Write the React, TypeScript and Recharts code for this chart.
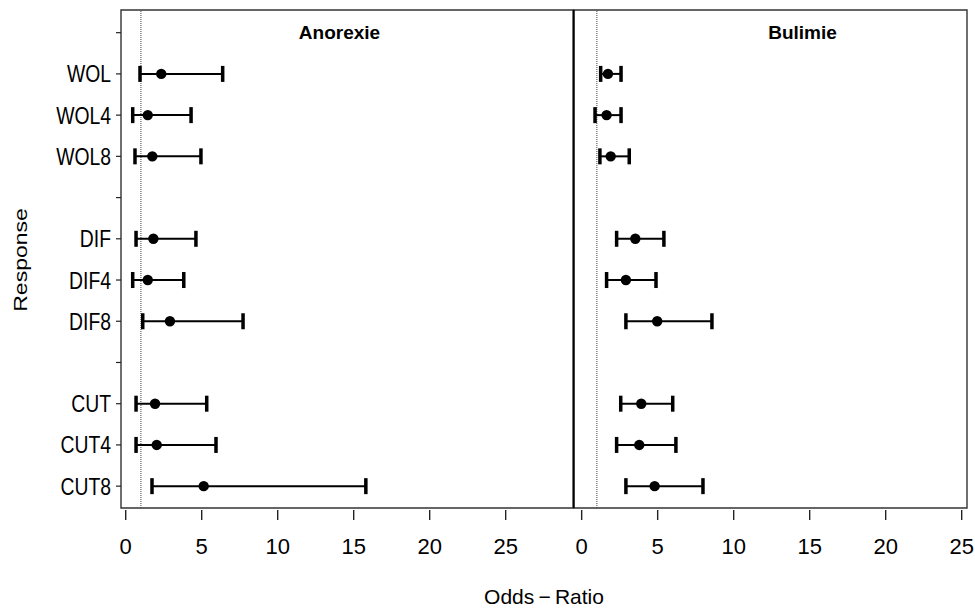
import React from 'react';
import { ScatterChart, Scatter, XAxis, YAxis, ErrorBar, ReferenceLine, ReferenceArea } from 'recharts';

// rows top to bottom, y slot (12 = top; slots 12, 8 and 4 are empty)
const responses = ['WOL', 'WOL4', 'WOL8', 'DIF', 'DIF4', 'DIF8', 'CUT', 'CUT4', 'CUT8'];
const ySlots = [11, 10, 9, 7, 6, 5, 3, 2, 1];
const yTicks = [1, 2, 3, 4, 5, 6, 7, 8, 9, 10, 11, 12];
const xTicks = [0, 5, 10, 15, 20, 25];

const anorexieOR = [2.34, 1.45, 1.75, 1.82, 1.45, 2.91, 1.93, 2.04, 5.13];
const anorexieLow = [0.94, 0.46, 0.61, 0.68, 0.46, 1.12, 0.68, 0.68, 1.73];
const anorexieHigh = [6.38, 4.3, 4.95, 4.62, 3.82, 7.72, 5.33, 5.94, 15.8];

const bulimieOR = [1.73, 1.64, 1.91, 3.53, 2.91, 4.97, 3.92, 3.79, 4.8];
const bulimieLow = [1.25, 0.88, 1.2, 2.3, 1.64, 2.91, 2.57, 2.3, 2.91];
const bulimieHigh = [2.59, 2.59, 3.13, 5.41, 4.89, 8.57, 5.99, 6.2, 7.98];

const Y_DOMAIN: [number, number] = [0.47, 12.55];
const LEFT_X: [number, number] = [-0.31, 29.43];
const RIGHT_X: [number, number] = [-0.57, 25.35];

const SANS = "'Liberation Sans', Arial, Helvetica, sans-serif";

const slotLabel = (v: number) => {
  const i = ySlots.indexOf(v);
  return i >= 0 ? responses[i] : '';
};

const buildPoints = (or: number[], lo: number[], hi: number[]) =>
  or.map((v, i) => ({ name: responses[i], x: v, y: ySlots[i], err: [v - lo[i], hi[i] - v] }));
const buildCaps = (vals: number[]) => vals.map((v, i) => ({ name: responses[i], x: v, y: ySlots[i] }));

const Cap = (props: any) => {
  const { cx, cy } = props;
  if (cx == null || cy == null) return null;
  return <rect x={cx - 1.75} y={cy - 8} width={3.5} height={16} fill="#000" />;
};

const Dot = (props: any) => {
  const { cx, cy } = props;
  if (cx == null || cy == null) return null;
  return <circle cx={cx} cy={cy} r={5.2} fill="#000" />;
};

const XTick = ({ x, y, payload }: any) => (
  <g>
    <line x1={x} x2={x} y1={y + 2} y2={y + 12} stroke="#222" strokeWidth={1.4} />
    <text x={x} y={y + 46} textAnchor="middle" fontSize={22} fontFamily={SANS} fill="#000">
      {payload.value}
    </text>
  </g>
);

// narrow-looking labels: regular face squeezed horizontally
const YTick = ({ x, y, payload }: any) => (
  <text
    transform={`translate(${x},${y + 8.5}) scale(0.79,1)`}
    textAnchor="end"
    fontSize={24.5}
    fontFamily={SANS}
    fill="#000"
  >
    {slotLabel(payload.value)}
  </text>
);

function Panel({ or, lo, hi, domain, showY, width, left, rightMargin }: any) {
  const points = buildPoints(or, lo, hi);
  return (
    <div style={{ position: 'absolute', left, top: 0 }}>
      <ScatterChart width={width} height={609} margin={{ top: 10, right: rightMargin, bottom: 0, left: 0 }}>
        <XAxis
          type="number"
          dataKey="x"
          domain={domain}
          ticks={xTicks}
          allowDataOverflow
          axisLine={false}
          tickLine={false}
          tickSize={0}
          tickMargin={0}
          height={101}
          tick={<XTick />}
          interval={0}
        />
        <YAxis
          type="number"
          dataKey="y"
          domain={Y_DOMAIN}
          ticks={yTicks}
          allowDataOverflow
          hide={!showY}
          width={showY ? 121 : 0}
          axisLine={false}
          tickSize={5}
          tickMargin={5}
          interval={0}
          tickLine={{ stroke: '#222', strokeWidth: 1.2 }}
          tick={<YTick />}
        />
        <ReferenceArea
          x1={domain[0]}
          x2={domain[1]}
          y1={Y_DOMAIN[0]}
          y2={Y_DOMAIN[1]}
          fill="none"
          stroke="#333"
          strokeWidth={1.4}
          ifOverflow="visible"
        />
        <ReferenceLine x={1} stroke="#444" strokeWidth={1} strokeDasharray="1 1" />
        <Scatter data={points} shape={<Dot />} isAnimationActive={false}>
          <ErrorBar dataKey="err" direction="x" width={0} stroke="#000" strokeWidth={2} />
        </Scatter>
        <Scatter data={buildCaps(lo)} shape={<Cap />} isAnimationActive={false} />
        <Scatter data={buildCaps(hi)} shape={<Cap />} isAnimationActive={false} />
        {!showY && <ReferenceLine x={domain[0]} stroke="#000" strokeWidth={3.5} ifOverflow="visible" />}
      </ScatterChart>
    </div>
  );
}

export default function App() {
  return (
    <div style={{ position: 'absolute', left: 0, top: 0, width: 975, height: 609, background: '#fff', fontFamily: SANS }}>
      <Panel or={anorexieOR} lo={anorexieLow} hi={anorexieHigh} domain={LEFT_X} showY width={580} left={0} rightMargin={7} />
      <Panel or={bulimieOR} lo={bulimieLow} hi={bulimieHigh} domain={RIGHT_X} showY={false} width={402} left={573} rightMargin={8} />
      <svg width={975} height={609} style={{ position: 'absolute', left: 0, top: 0, pointerEvents: 'none' }}>
        <text x={339.5} y={38.5} textAnchor="middle" fontSize={19} fontWeight="bold" fontFamily={SANS}>Anorexie</text>
        <text x={802.5} y={38.5} textAnchor="middle" fontSize={19} fontWeight="bold" fontFamily={SANS}>Bulimie</text>
        <text x={544} y={604} textAnchor="middle" fontSize={21} fontFamily={SANS}>Odds{'\u2009\u2212\u2009'}Ratio</text>
        <text
          transform="translate(26.5,260) rotate(-90) scale(1,0.82)"
          textAnchor="middle"
          fontSize={23}
          fontFamily={SANS}
        >
          Response
        </text>
      </svg>
    </div>
  );
}
